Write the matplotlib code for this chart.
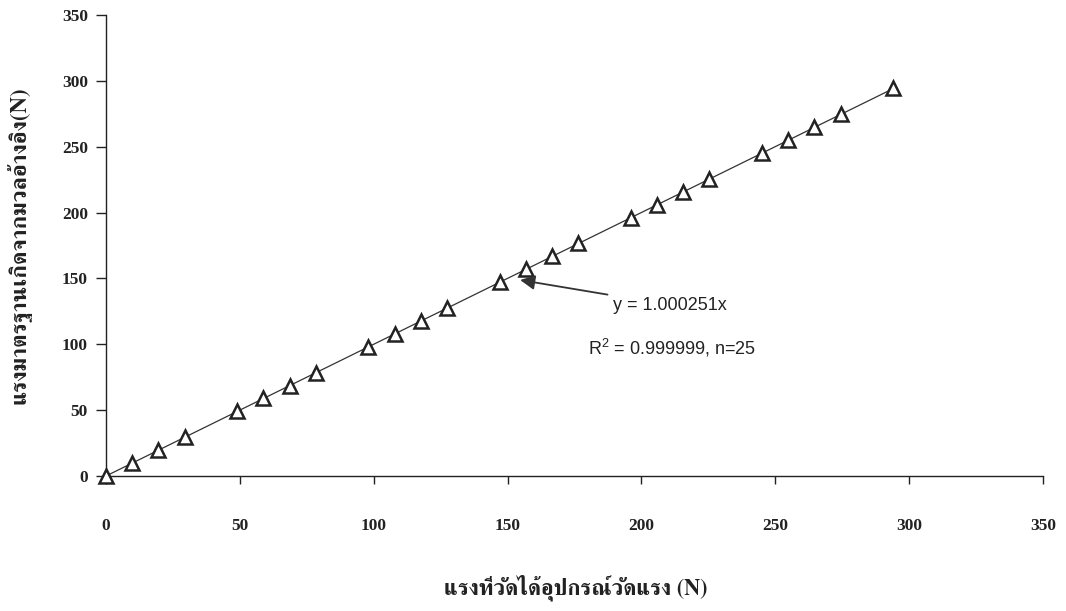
import matplotlib
matplotlib.use("Agg")
import matplotlib.pyplot as plt
from matplotlib import font_manager as fm
from matplotlib.ft2font import FT2Font

# ---- data ----
x_measured = [0, 9.8, 19.6, 29.4, 49.0, 58.8, 68.6, 78.4, 98.0, 107.8, 117.6, 127.4,
              147.0, 156.8, 166.6, 176.4, 196.0, 205.8, 215.6, 225.4, 245.0, 254.8,
              264.6, 274.4, 294.0]
y_standard = [0, 9.81, 19.61, 29.42, 49.03, 58.84, 68.65, 78.45, 98.07, 107.87, 117.68,
              127.49, 147.10, 156.91, 166.71, 176.52, 196.13, 205.94, 215.75, 225.55,
              245.17, 254.97, 264.78, 274.59, 294.20]
slope = 1.000251
xticks = [0, 50, 100, 150, 200, 250, 300, 350]
yticks = [0, 50, 100, 150, 200, 250, 300, 350]
xlabel = "แรงที่วัดได้อุปกรณ์วัดแรง (N)"
ylabel = "แรงมาตรฐานเกิดจากมวลอ้างอิง(N)"
eq_text = "y = 1.000251x"
r2_text = r"R$^2$ = 0.999999, n=25"


def find_thai_fonts():
    names = []
    for f in fm.fontManager.ttflist:
        try:
            cm = FT2Font(f.fname).get_charmap()
            if 0x0E41 in cm and 0x0E07 in cm and f.name not in names:
                names.append(f.name)
        except Exception:
            pass
    pref = ["Serif", "Norasi", "Looped", "Kinnari", "Garuda", "Loma"]
    names.sort(key=lambda n: min([i for i, p in enumerate(pref) if p in n] or [99]))
    return names


thai_fonts = find_thai_fonts()
label_family = (thai_fonts[:1] + ["Liberation Serif"]) if thai_fonts else ["Liberation Serif"]

plt.rcParams["mathtext.fontset"] = "custom"
plt.rcParams["mathtext.rm"] = "Liberation Sans"
plt.rcParams["mathtext.it"] = "Liberation Sans"

fig = plt.figure(figsize=(10.66, 6.11), dpi=100)
ax = fig.add_axes([106 / 1066, 1 - 476 / 611, (1043 - 106) / 1066, (476 - 15) / 611])

ink = "#222222"
xs_line = [x_measured[0], x_measured[-1]]
ax.plot(xs_line, [slope * v for v in xs_line], color="#333333", lw=0.9, zorder=2)
ax.plot(x_measured, y_standard, linestyle="none", marker="^", markersize=10.5,
        markerfacecolor="white", markeredgecolor=ink, markeredgewidth=1.8,
        clip_on=False, zorder=3)

ax.set_xlim(0, 350)
ax.set_ylim(0, 350)
ax.set_xticks(xticks)
ax.set_yticks(yticks)
ax.spines["top"].set_visible(False)
ax.spines["right"].set_visible(False)
for s in ("left", "bottom"):
    ax.spines[s].set_color(ink)
    ax.spines[s].set_linewidth(1.0)
ax.tick_params(axis="x", direction="out", length=6, width=1, color=ink, pad=24)
ax.tick_params(axis="y", direction="out", length=7, width=1, color=ink, pad=6)
for lab in ax.get_xticklabels() + ax.get_yticklabels():
    lab.set_fontfamily("Liberation Serif")
    lab.set_fontweight("bold")
    lab.set_fontsize(12.5)
    lab.set_color(ink)

ax.annotate(eq_text, xy=(154.7, 148.8), xytext=(189.4, 129.8),
            fontsize=13, family="Liberation Sans", color=ink,
            ha="left", va="center",
            arrowprops=dict(arrowstyle="-|>", color="#333333", lw=1.3,
                            mutation_scale=22, shrinkA=2, shrinkB=0))
ax.text(180, 97.2, r2_text, fontsize=13, family="Liberation Sans", color=ink,
        ha="left", va="center")

fig.text(576 / 1066, 1 - 588 / 611, xlabel, family=label_family, fontsize=16,
         fontweight="bold", color=ink, ha="center", va="center")
fig.text(19 / 1066, 1 - 245 / 611, ylabel, family=label_family, fontsize=16.5,
         fontweight="bold", color=ink, ha="center", va="center", rotation=90)

fig.savefig("out.png", dpi=100, facecolor="white")
